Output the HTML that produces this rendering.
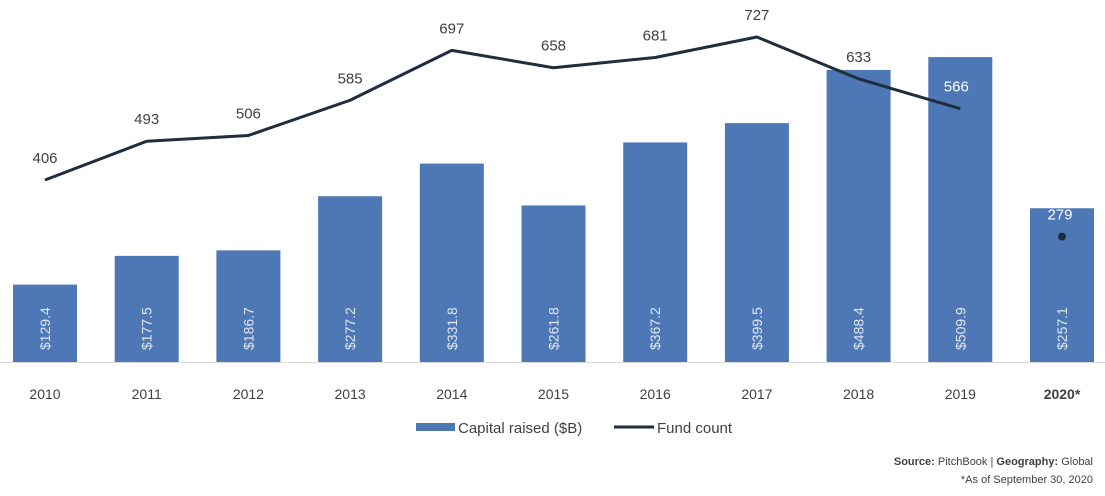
<!DOCTYPE html>
<html><head><meta charset="utf-8"><style>
body{margin:0;background:#fff;width:1105px;height:496px;overflow:hidden;font-family:"Liberation Sans",sans-serif}
</style></head><body>
<svg id="c" width="1105" height="496" style="position:absolute;left:0;top:0"></svg>
<script>
const years=["2010","2011","2012","2013","2014","2015","2016","2017","2018","2019","2020*"];
const capital=[129.4,177.5,186.7,277.2,331.8,261.8,367.2,399.5,488.4,509.9,257.1];
const funds=[406,493,506,585,697,658,681,727,633,566,279];
const NS="http://www.w3.org/2000/svg";
const svg=document.getElementById('c');
const base=362, barScale=0.598;
const x=i=>45+i*101.7;
const yb=v=>base-v*barScale;
const yl=v=>180-(v-406)*0.4455;
function mk(t,a){const e=document.createElementNS(NS,t);for(const k in a)e.setAttribute(k,a[k]);svg.appendChild(e);return e;}
const ax=mk('line',{x1:0,x2:1105,y1:base+0.5,y2:base+0.5,stroke:'#d9d9d9','stroke-width':1});


capital.forEach((v,i)=>{
 const r=mk('rect',{x:x(i)-32,y:yb(v),width:64,height:base-yb(v),fill:'#4e78b5'});
 
 
 const t=mk('text',{x:0,y:0,transform:`translate(${x(i)+5},350) rotate(-90)`,fill:'#dfe7f3','font-size':14});
 t.textContent='$'+v.toFixed(1);
 
 
 const yt=mk('text',{x:x(i),y:399,'text-anchor':'middle',fill:'#404040','font-size':14,'font-weight':i==10?'bold':'normal'});
 yt.textContent=years[i];
 
 
});
const pts=funds.slice(0,10).map((v,i)=>x(i)+','+yl(v)).join(' ');
const pl=mk('polyline',{points:pts,fill:'none',stroke:'#1f2d3d','stroke-width':3,'stroke-linejoin':'round'});


const dot=mk('circle',{cx:x(10),cy:yl(funds[10]),r:4,fill:'#1f2d3d'});


funds.forEach((v,i)=>{
 const white=i>=9;
 const t=mk('text',{x:x(i)+(i==9?-4:i==10?-2:0),y:yl(v)-17,'text-anchor':'middle',fill:white?'#ffffff':'#404040','font-size':15});
 t.textContent=v;
 
 
});
const lg1=mk('rect',{x:416,y:423,width:39,height:8,fill:'#4e78b5'});


const lt1=mk('text',{x:458,y:433,fill:'#404040','font-size':15});lt1.textContent='Capital raised ($B)';


const lg2=mk('line',{x1:614,x2:654,y1:427,y2:427,stroke:'#1f2d3d','stroke-width':3});


const lt2=mk('text',{x:657,y:433,fill:'#404040','font-size':15});lt2.textContent='Fund count';


const s1=mk('text',{x:1093,y:465,'text-anchor':'end',fill:'#404040','font-size':11});
s1.innerHTML='<tspan font-weight="bold">Source:</tspan> PitchBook | <tspan font-weight="bold">Geography:</tspan> Global';


const s2=mk('text',{x:1093,y:483,'text-anchor':'end',fill:'#404040','font-size':11});
s2.textContent='*As of September 30, 2020';


</script>
</body></html>
